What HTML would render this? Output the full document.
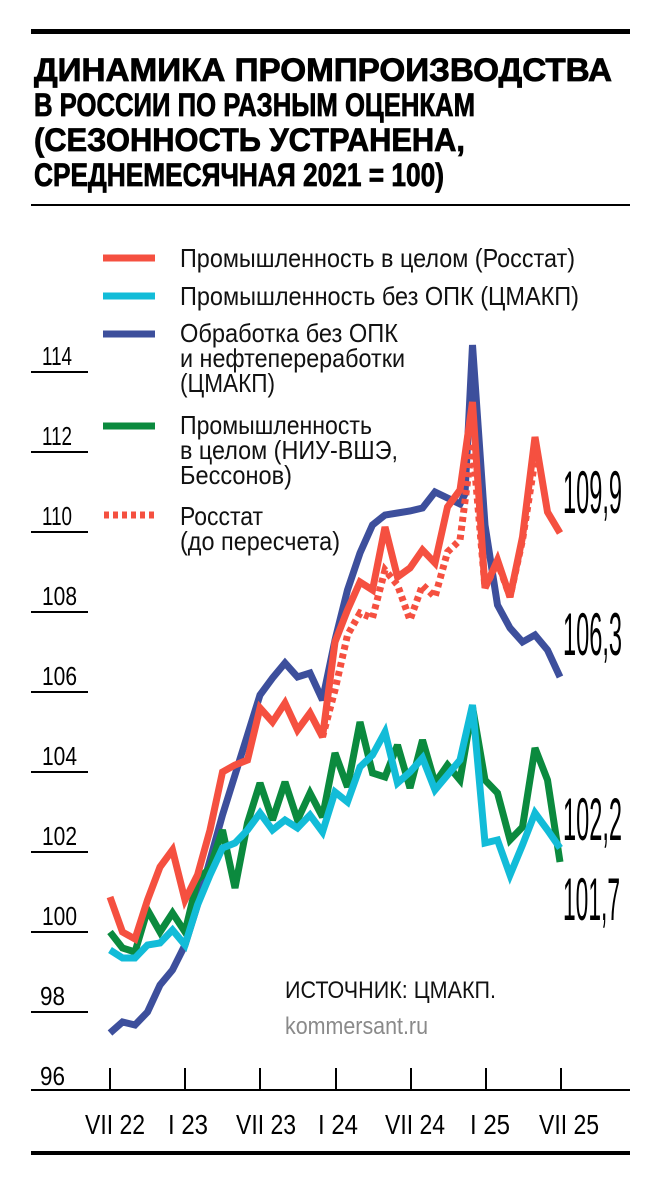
<!DOCTYPE html>
<html><head><meta charset="utf-8"><style>
html,body{margin:0;padding:0;background:#fff}
svg{display:block}
text{font-family:"Liberation Sans",sans-serif}
</style></head><body>
<svg width="660" height="1186" viewBox="0 0 660 1186" xmlns="http://www.w3.org/2000/svg">
<rect x="31" y="29" width="599" height="5" fill="#000"/>
<g font-weight="bold" font-size="32" fill="#000" stroke="#000" stroke-width="0.8">
<text x="34" y="81" textLength="578" lengthAdjust="spacingAndGlyphs">ДИНАМИКА ПРОМПРОИЗВОДСТВА</text>
<text x="34" y="116" textLength="441" lengthAdjust="spacingAndGlyphs">В РОССИИ ПО РАЗНЫМ ОЦЕНКАМ</text>
<text x="34" y="151" textLength="431" lengthAdjust="spacingAndGlyphs">(СЕЗОННОСТЬ УСТРАНЕНА,</text>
<text x="34" y="186" textLength="410" lengthAdjust="spacingAndGlyphs">СРЕДНЕМЕСЯЧНАЯ 2021 = 100)</text>
</g>
<rect x="31" y="204" width="599" height="2" fill="#000"/>

<g stroke-width="7">
<line x1="103" y1="258" x2="155" y2="258" stroke="#f55040"/>
<line x1="103" y1="296" x2="155" y2="296" stroke="#12bcd8"/>
<line x1="103" y1="334" x2="155" y2="334" stroke="#3d4f9c"/>
<line x1="103" y1="426" x2="155" y2="426" stroke="#0b8a3e"/>
<line x1="104" y1="515" x2="155" y2="515" stroke="#f55040" stroke-dasharray="5,4"/>
</g>
<g font-size="26" fill="#111">
<text x="180" y="267" textLength="395" lengthAdjust="spacingAndGlyphs">Промышленность в целом (Росстат)</text>
<text x="180" y="305" textLength="399" lengthAdjust="spacingAndGlyphs">Промышленность без ОПК (ЦМАКП)</text>
<text x="180" y="342" textLength="218" lengthAdjust="spacingAndGlyphs">Обработка без ОПК</text>
<text x="180" y="367" textLength="225" lengthAdjust="spacingAndGlyphs">и нефтепереработки</text>
<text x="180" y="392" textLength="95" lengthAdjust="spacingAndGlyphs">(ЦМАКП)</text>
<text x="180" y="434" textLength="192" lengthAdjust="spacingAndGlyphs">Промышленность</text>
<text x="180" y="459" textLength="218" lengthAdjust="spacingAndGlyphs">в целом (НИУ-ВШЭ,</text>
<text x="180" y="484" textLength="112" lengthAdjust="spacingAndGlyphs">Бессонов)</text>
<text x="180" y="525" textLength="83" lengthAdjust="spacingAndGlyphs">Росстат</text>
<text x="180" y="550" textLength="160" lengthAdjust="spacingAndGlyphs">(до пересчета)</text>
</g>

<g stroke="#000" stroke-width="2">
<line x1="31" y1="372" x2="88" y2="372"/>
<line x1="31" y1="452" x2="88" y2="452"/>
<line x1="31" y1="532" x2="88" y2="532"/>
<line x1="31" y1="612" x2="88" y2="612"/>
<line x1="31" y1="692" x2="88" y2="692"/>
<line x1="31" y1="772" x2="88" y2="772"/>
<line x1="31" y1="852" x2="88" y2="852"/>
<line x1="31" y1="932" x2="88" y2="932"/>
<line x1="31" y1="1012" x2="88" y2="1012"/>
<line x1="31" y1="1090" x2="630" y2="1090"/>
<line x1="110" y1="1068" x2="110" y2="1090"/>
<line x1="185" y1="1068" x2="185" y2="1090"/>
<line x1="260" y1="1068" x2="260" y2="1090"/>
<line x1="336" y1="1068" x2="336" y2="1090"/>
<line x1="411" y1="1068" x2="411" y2="1090"/>
<line x1="486" y1="1068" x2="486" y2="1090"/>
<line x1="561" y1="1068" x2="561" y2="1090"/>
</g>
<g font-size="26" fill="#000">
<text x="42" y="365" textLength="30" lengthAdjust="spacingAndGlyphs">114</text>
<text x="42" y="445" textLength="30" lengthAdjust="spacingAndGlyphs">112</text>
<text x="42" y="525" textLength="30" lengthAdjust="spacingAndGlyphs">110</text>
<text x="42" y="605" textLength="35" lengthAdjust="spacingAndGlyphs">108</text>
<text x="42" y="685" textLength="35" lengthAdjust="spacingAndGlyphs">106</text>
<text x="42" y="765" textLength="35" lengthAdjust="spacingAndGlyphs">104</text>
<text x="42" y="845" textLength="35" lengthAdjust="spacingAndGlyphs">102</text>
<text x="42" y="925" textLength="35" lengthAdjust="spacingAndGlyphs">100</text>
<text x="40" y="1005" textLength="25" lengthAdjust="spacingAndGlyphs">98</text>
<text x="40" y="1085" textLength="25" lengthAdjust="spacingAndGlyphs">96</text>
</g>
<g font-size="28" fill="#000" text-anchor="middle">
<text x="115" y="1134" textLength="60" lengthAdjust="spacingAndGlyphs">VII 22</text>
<text x="188" y="1134" textLength="40" lengthAdjust="spacingAndGlyphs">I 23</text>
<text x="266" y="1134" textLength="60" lengthAdjust="spacingAndGlyphs">VII 23</text>
<text x="338" y="1134" textLength="40" lengthAdjust="spacingAndGlyphs">I 24</text>
<text x="415" y="1134" textLength="60" lengthAdjust="spacingAndGlyphs">VII 24</text>
<text x="490" y="1134" textLength="40" lengthAdjust="spacingAndGlyphs">I 25</text>
<text x="569" y="1134" textLength="60" lengthAdjust="spacingAndGlyphs">VII 25</text>
</g>
<rect x="31" y="1151" width="599" height="4" fill="#000"/>

<text x="285" y="998" font-size="24" fill="#111" textLength="211" lengthAdjust="spacingAndGlyphs">ИСТОЧНИК: ЦМАКП.</text>
<text x="285" y="1034" font-size="24" fill="#8a8a8a" textLength="143" lengthAdjust="spacingAndGlyphs">kommersant.ru</text>

<g fill="none" stroke-width="7" stroke-linejoin="miter" stroke-miterlimit="3">
<polyline stroke="#3d4f9c" points="110,1033 122.5,1022 135,1025 147.5,1012 160,985 172.5,970 185,945 197.5,905 210,860 222.5,815 235,775 247.5,735 260,695 272.5,678 285,663 297.5,677 310,673 322.5,700 335,640 347.5,590 360,553 372.5,525 385,515 397.5,513 410,511 422.5,508 435,492 447.5,498 460,504 465,494 472.5,345 485,525 497.5,605 510,628 522.5,642 535,635 547.5,650 560,677"/>
<polyline stroke="#0b8a3e" points="110,932 122.5,948 135,952 147.5,910 160,932 172.5,913 185,932 197.5,880 210,868 222.5,830 235,888 247.5,823 260,783 272.5,820 285,782 297.5,820 310,793 322.5,817 335,753 347.5,787 360,722 372.5,773 385,777 397.5,745 410,788 422.5,740 435,783 447.5,765 460,780 472.5,707 485,780 497.5,793 510,840 522.5,827 535,748 547.5,780 560,862"/>
<polyline stroke="#12bcd8" points="110,950 122.5,958 135,958 147.5,945 160,943 172.5,930 185,945 197.5,905 210,875 222.5,848 235,843 247.5,830 260,813 272.5,830 285,820 297.5,828 310,815 322.5,832 335,792 347.5,802 360,767 372.5,755 385,732 397.5,783 410,772 422.5,758 435,790 447.5,775 460,760 472.5,705 485,843 497.5,840 510,875 522.5,845 535,813 547.5,830 560,848"/>
<polyline stroke="#f55040" points="110,897 122.5,932 135,939 147.5,900 160,867 172.5,850 185,900 197.5,875 210,830 222.5,772 235,765 247.5,760 260,708 272.5,722 285,703 297.5,730 310,713 322.5,737 335,642 347.5,610 360,582 372.5,590 385,527 397.5,577 410,568 422.5,550 435,563 447.5,507 460,490 472.5,402 485,588 497.5,560 510,597 522.5,537 535,437 547.5,512 560,533"/>
<polyline stroke="#f55040" stroke-dasharray="5,4" points="322.5,737 335,690 347.5,635 360,613 372.5,618 385,570 397.5,585 410,620 422.5,585 435,597 447.5,552 460,540 472.5,443 485,588 497.5,562 510,597 522.5,540 535,460"/>
</g>

<g font-size="60" fill="#000">
<text x="563" y="513" textLength="59" lengthAdjust="spacingAndGlyphs">109,9</text>
<text x="563" y="655" textLength="59" lengthAdjust="spacingAndGlyphs">106,3</text>
<text x="563" y="840" textLength="59" lengthAdjust="spacingAndGlyphs">102,2</text>
<text x="563" y="920" textLength="57" lengthAdjust="spacingAndGlyphs">101,7</text>
</g>
</svg>
</body></html>
